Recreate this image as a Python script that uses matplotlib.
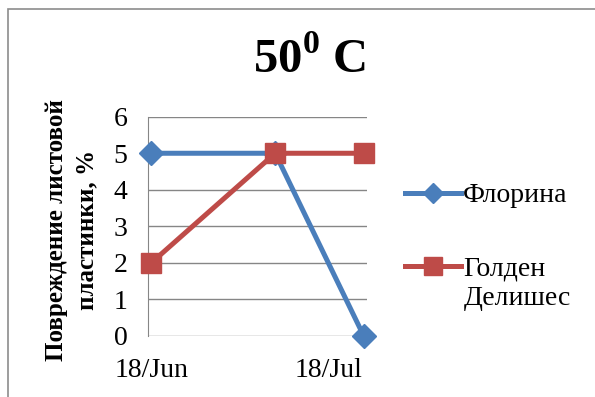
import matplotlib
matplotlib.use('Agg')
import matplotlib.pyplot as plt
import matplotlib.dates as mdates
import matplotlib.patches as patches
import pandas as pd

plt.rcParams['font.family'] = 'Liberation Serif'
plt.rcParams['mathtext.fontset'] = 'custom'
plt.rcParams['mathtext.rm'] = 'Liberation Serif:bold'
plt.rcParams['mathtext.bf'] = 'Liberation Serif:bold'

# наблюдения
dates = pd.to_datetime(['2013-06-18', '2013-07-09', '2013-07-24'])
florina = [5, 5, 0]
golden = [2, 5, 5]
tick_dates = pd.to_datetime(['2013-06-18', '2013-07-18'])
yticks = [0, 1, 2, 3, 4, 5, 6]

fig = plt.figure(figsize=(5.95, 3.97), dpi=100)
ax = fig.add_axes([0.2492, 0.1537, 0.3671, 0.5523])

# рамка области диаграммы
frame = patches.Rectangle((8 / 595, -0.1), 1.2, 0.977 + 0.1, transform=fig.transFigure,
                          fill=False, edgecolor='#8c8c8c', linewidth=1.2)
fig.patches.append(frame)

ax.plot(dates, florina, color='#4A7EBB', linewidth=3.6, marker='D', markersize=12,
        label='Флорина', zorder=3, clip_on=False)
ax.plot(dates, golden, color='#BE4B48', linewidth=3.6, marker='s', markersize=14.5,
        label='Голден', zorder=4, clip_on=False)

ax.set_xlim(dates[0] - pd.Timedelta(hours=12), dates[-1] + pd.Timedelta(hours=12))
ax.set_ylim(0, 6)
ax.set_yticks(yticks)
ax.set_xticks(tick_dates)
ax.xaxis.set_major_formatter(mdates.DateFormatter('%d/%b'))
ax.yaxis.grid(True, color='#868686', linewidth=1)
ax.set_axisbelow(True)
for s in ['top', 'right', 'bottom']:
    ax.spines[s].set_visible(False)
ax.spines['left'].set_color('#868686')
ax.tick_params(axis='both', length=0, labelsize=20)
ax.tick_params(axis='y', pad=15)
ax.tick_params(axis='x', pad=16)

fig.text(309 / 595, 1 - 73 / 397, r'50$^{0}$ C', ha='center', va='baseline',
         fontsize=35, fontweight='bold')
fig.text(72 / 595, 1 - 230 / 397, 'Повреждение листовой\nпластинки, %', rotation=90,
         ha='center', va='center', fontsize=18, fontweight='bold',
         multialignment='center', linespacing=1.4)

leg = fig.legend(loc='upper left', bbox_to_anchor=(405 / 595, 1 - 183 / 397),
                 frameon=False, fontsize=20, handlelength=2.0, handletextpad=0.1,
                 labelspacing=1.73, borderpad=0, borderaxespad=0, markerscale=0.85)

# вторая строка подписи сорта под "Голден"
fig.canvas.draw()
bb = leg.get_texts()[1].get_window_extent()
fig.text(bb.x0, bb.y0 - 29, 'Делишес', transform=None, fontsize=20,
         ha='left', va='bottom')

fig.savefig('out.png', dpi=100)
